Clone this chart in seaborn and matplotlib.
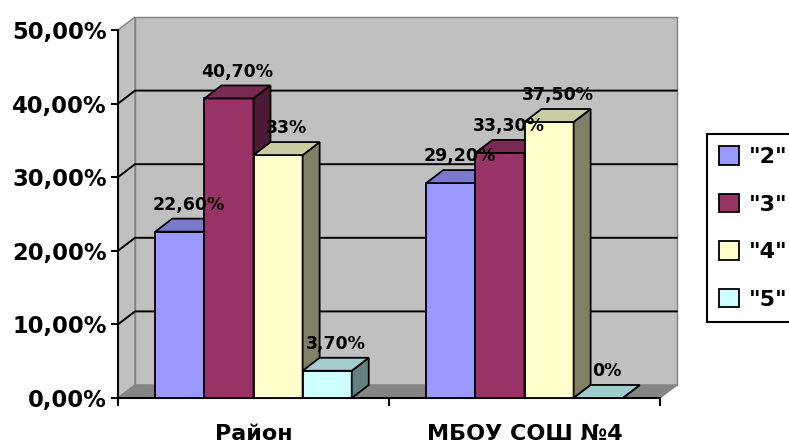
import numpy as np
import pandas as pd
import seaborn as sns
import matplotlib.pyplot as plt
from matplotlib.patches import Polygon, Patch
from matplotlib.colors import to_rgb

categories = ['Район', 'МБОУ СОШ №4']
grades = ['"2"', '"3"', '"4"', '"5"']
grade_2 = [22.6, 29.2]
grade_3 = [40.7, 33.3]
grade_4 = [33.0, 37.5]
grade_5 = [3.7, 0.0]
labels_2 = ['22,60%', '29,20%']
labels_3 = ['40,70%', '33,30%']
labels_4 = ['33%', '37,50%']
labels_5 = ['3,70%', '0%']
y_ticks = [0, 10, 20, 30, 40, 50]
y_tick_labels = ['0,00%', '10,00%', '20,00%', '30,00%', '40,00%', '50,00%']
colors = ['#9999FF', '#993366', '#FFFFCC', '#CCFFFF']

df = pd.DataFrame({
    'group': categories * 4,
    'grade': np.repeat(grades, 2),
    'value': grade_2 + grade_3 + grade_4 + grade_5,
    'label': labels_2 + labels_3 + labels_4 + labels_5,
})

sns.set_style('white')
plt.rcParams['font.family'] = ['DejaVu Sans']
plt.rcParams['text.color'] = 'black'
plt.rcParams['xtick.color'] = 'black'
plt.rcParams['ytick.color'] = 'black'

fig = plt.figure(figsize=(7.89, 4.43), dpi=100)
ax = fig.add_axes([118 / 789, 45 / 443, 542 / 789, 368 / 443])

sns.barplot(data=df, x='group', y='value', hue='grade', order=categories,
            hue_order=grades, palette=colors, saturation=1, width=0.725,
            gap=0, edgecolor='black', linewidth=1.3, legend=False, ax=ax)

ax.set_xlim(-0.5, 1.5)
ax.set_ylim(0, 50)
ax.patch.set_visible(False)

# depth of the 3d box (in data units)
dx = 17 / 542 * 2
dy = 13 / 368 * 50
x_left, x_right = -0.5, 1.5
top = y_ticks[-1]

# walls and floor
back = Polygon([(x_left + dx, dy), (x_right + dx, dy), (x_right + dx, top + dy),
                (x_left + dx, top + dy)], fc='#C0C0C0', ec='#808080', lw=1,
               zorder=0.5, clip_on=False)
side_wall = Polygon([(x_left, 0), (x_left + dx, dy), (x_left + dx, top + dy),
                     (x_left, top)], fc='#C0C0C0', ec='#808080', lw=1,
                    zorder=0.6, clip_on=False)
floor = Polygon([(x_left, 0), (x_right, 0), (x_right + dx, dy), (x_left + dx, dy)],
                fc='#858585', ec='#858585', lw=1, zorder=0.7, clip_on=False)
for poly in (back, side_wall, floor):
    ax.add_patch(poly)

for v in y_ticks[1:-1]:
    ax.plot([x_left, x_left + dx, x_right + dx], [v, v + dy, v + dy],
            color='black', lw=1.4, zorder=1, clip_on=False)


def shade(c, f):
    return tuple(min(1, v * f) for v in to_rgb(c))


bars = sorted(ax.patches[:len(df)], key=lambda p: p.get_x())
rows = df.assign(gi=df['group'].map(categories.index),
                 hi=df['grade'].map(grades.index)).sort_values(['gi', 'hi'])

for i, (p, (_, row)) in enumerate(zip(bars, rows.iterrows())):
    z = 3 + i
    p.set_zorder(z)
    c = p.get_facecolor()
    x0, w, h = p.get_x(), p.get_width(), p.get_height()
    top_face = Polygon([(x0, h), (x0 + w, h), (x0 + w + dx, h + dy), (x0 + dx, h + dy)],
                       fc=shade(c, 0.8), ec='black', lw=1.3, zorder=z, clip_on=False)
    side_face = Polygon([(x0 + w, 0), (x0 + w + dx, dy), (x0 + w + dx, h + dy), (x0 + w, h)],
                        fc=shade(c, 0.5), ec='black', lw=1.3, zorder=z, clip_on=False)
    ax.add_patch(side_face)
    ax.add_patch(top_face)
    ax.annotate(row['label'], (x0 + w / 2 + dx / 2, h + dy), xytext=(0, 10),
                textcoords='offset points', ha='center', va='center',
                fontsize=12.5, fontweight='bold', zorder=20, annotation_clip=False)

sns.despine(ax=ax)
for s in ('left', 'bottom'):
    ax.spines[s].set_color('black')
    ax.spines[s].set_linewidth(1.5)
    ax.spines[s].set_zorder(2)

ax.set_yticks(y_ticks, y_tick_labels)
ax.tick_params(axis='y', direction='out', length=5, width=1.5, pad=3,
               labelsize=16.3, left=True)
ax.set_xticks([0, 1], categories)
ax.set_xticks([-0.5, 0.5, 1.5], minor=True)
ax.tick_params(axis='x', which='major', length=0, pad=19, labelsize=16)
ax.tick_params(axis='x', which='minor', direction='out', length=6, width=1.5, bottom=True)
for t in ax.get_xticklabels() + ax.get_yticklabels():
    t.set_fontweight('bold')
ax.set_xlabel('')
ax.set_ylabel('')

handles = [Patch(fc=c, ec='black', lw=1.3) for c in colors]
leg = fig.legend(handles, grades, loc='upper left',
                 bbox_to_anchor=(707 / 789, 1 - 134 / 443), borderaxespad=0,
                 frameon=True, fancybox=False, edgecolor='black', framealpha=1,
                 prop={'weight': 'bold', 'size': 16}, handlelength=0.9,
                 handleheight=0.9, handletextpad=0.45, labelspacing=1.2,
                 borderpad=0.55)
leg.get_frame().set_linewidth(1.5)

fig.savefig('out.png', dpi=100)
